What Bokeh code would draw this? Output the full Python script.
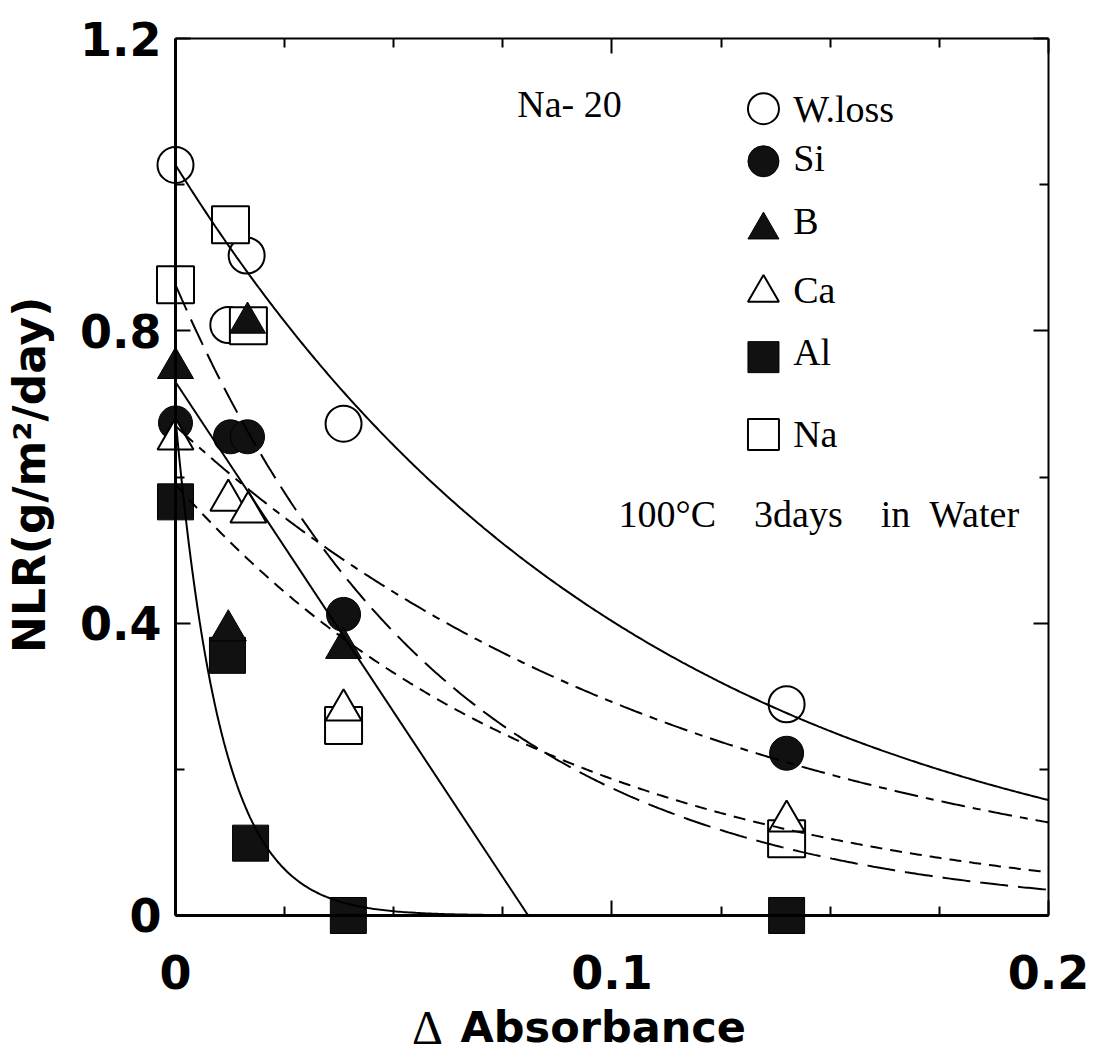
import numpy as np
from bokeh.plotting import figure
from bokeh.models import LinearAxis, Range1d, Label, FixedTicker
from bokeh.embed import file_html
from bokeh.resources import INLINE

# ---------------- data ----------------
x_wloss = [0.0, 0.0163, 0.0121, 0.0385, 0.140]
y_wloss = [1.027, 0.903, 0.808, 0.673, 0.289]

x_si = [0.0, 0.0126, 0.0165, 0.0385, 0.140]
y_si = [0.674, 0.655, 0.655, 0.412, 0.222]

x_b = [0.0, 0.0121, 0.0165, 0.0385]
y_b = [0.749, 0.390, 0.811, 0.366]

x_ca = [0.0, 0.0121, 0.0167, 0.0385, 0.140]
y_ca = [0.652, 0.568, 0.552, 0.281, 0.129]

x_al = [0.0, 0.0119, 0.0172, 0.0396, 0.140]
y_al = [0.566, 0.356, 0.099, 0.0, 0.0]

x_na = [0.0, 0.0126, 0.0167, 0.0385, 0.140]
y_na = [0.863, 0.945, 0.807, 0.260, 0.105]

# fitted curves: y = a * exp(-k x)
wloss_fit = [1.027, 9.36]
si_fit = [0.67, 8.3]
ca_fit = [0.59, 11.5]
al_fit = [0.68, 95.0]
na_fit = [0.863, 16.0]
# B: straight line
b_line_x = [0.0, 0.0808]
b_line_y = [0.73, 0.0]

legend_labels = ["W.loss", "Si", "B", "Ca", "Al", "Na"]
x_major_ticks = [0.0, 0.1, 0.2]
x_minor_ticks = [0.025, 0.05, 0.075, 0.125, 0.15, 0.175]
y_major_ticks = [0.0, 0.4, 0.8, 1.2]
y_minor_ticks = [0.2, 0.6, 1.0]
x_tick_labels = {0: "0", 0.1: "0.1", 0.2: "0.2"}
y_tick_labels = {0: "0", 0.4: "0.4", 0.8: "0.8", 1.2: "1.2"}

# ---------------- figure ----------------
# frame = whole canvas; data box 0..0.2 x 0..1.2 sits at px 175..1048 x 38..915
X0, X1 = -0.04009, 0.21237
Y0, Y1 = -0.19430, 1.25200
p = figure(width=1102, height=1057, x_range=Range1d(X0, X1), y_range=Range1d(Y0, Y1),
           output_backend="svg", toolbar_location=None, min_border=0,
           x_axis_type=None, y_axis_type=None)
p.grid.visible = False
p.background_fill_color = "white"
p.border_fill_color = "white"
p.outline_line_color = None

tick_font = "DejaVu Sans"
serif = "Liberation Serif"


def style_axis(ax, lw, labels=True):
    ax.axis_line_width = lw
    ax.axis_line_color = "black"
    ax.major_tick_in = 15
    ax.major_tick_out = 0
    ax.minor_tick_in = 9
    ax.minor_tick_out = 0
    ax.major_tick_line_width = 2
    ax.minor_tick_line_width = 2
    if labels:
        ax.major_label_text_font = tick_font
        ax.major_label_text_font_style = "bold"
        ax.major_label_text_font_size = "46px"
        ax.major_label_text_color = "black"
    else:
        ax.major_label_text_font_size = "1px"
        ax.major_label_text_color = None


xb = LinearAxis(ticker=FixedTicker(ticks=x_major_ticks, minor_ticks=x_minor_ticks),
                fixed_location=0.0, bounds=(0.0, 0.2), major_label_overrides=x_tick_labels,
                major_label_standoff=40)
style_axis(xb, 3)
p.add_layout(xb, "below")

xt = LinearAxis(ticker=FixedTicker(ticks=x_major_ticks, minor_ticks=x_minor_ticks),
                fixed_location=1.2, bounds=(0.0, 0.2))
style_axis(xt, 2, labels=False)
p.add_layout(xt, "above")

yl = LinearAxis(ticker=FixedTicker(ticks=y_major_ticks, minor_ticks=y_minor_ticks),
                fixed_location=0.0, bounds=(0.0, 1.2), major_label_overrides=y_tick_labels,
                major_label_standoff=14)
style_axis(yl, 3)
p.add_layout(yl, "left")

yr = LinearAxis(ticker=FixedTicker(ticks=y_major_ticks, minor_ticks=y_minor_ticks),
                fixed_location=0.2, bounds=(0.0, 1.2))
style_axis(yr, 2, labels=False)
p.add_layout(yr, "right")

# ---------------- markers ----------------
MS = 36
p.scatter(x_wloss, y_wloss, marker="circle", size=MS, fill_color="white",
          line_color="black", line_width=2)
p.scatter(x_na, y_na, marker="square", size=MS + 1, fill_color="white",
          line_color="black", line_width=2)
p.scatter(x_si, y_si, marker="circle", size=MS - 2, fill_color="#111111",
          line_color="black", line_width=1)
p.scatter(x_al, y_al, marker="square", size=MS, fill_color="#111111",
          line_color="black", line_width=1)
p.scatter(x_b, y_b, marker="triangle", size=MS, fill_color="#111111",
          line_color="black", line_width=1)
p.scatter(x_ca, y_ca, marker="triangle", size=MS, fill_color="white",
          line_color="black", line_width=2)

# ---------------- fitted curves ----------------
xs = np.linspace(0, 0.2, 400)


def curve(fit):
    return fit[0] * np.exp(-fit[1] * xs)


p.line(xs, curve(wloss_fit), line_color="black", line_width=2)
p.line(xs, curve(si_fit), line_color="black", line_width=2, line_dash="24 8 8 8")
p.line(xs, curve(ca_fit), line_color="black", line_width=2, line_dash="12 8")
p.line(xs, curve(na_fit), line_color="black", line_width=2, line_dash="28 10")
p.line(xs, curve(al_fit), line_color="black", line_width=2)
p.line(b_line_x, b_line_y, line_color="black", line_width=2)

# ---------------- legend (manual) ----------------
lx = 0.1347
leg_y = [1.104, 1.032, 0.938, 0.852, 0.764, 0.658]
leg_marker = ["circle", "circle", "triangle", "triangle", "square", "square"]
leg_fill = ["white", "#111111", "#111111", "white", "#111111", "white"]
leg_text_y = [1.104, 1.036, 0.950, 0.856, 0.771, 0.659]
for lab, yy, mk, fc, ty in zip(legend_labels, leg_y, leg_marker, leg_fill, leg_text_y):
    p.scatter([lx], [yy], marker=mk, size=31, fill_color=fc, line_color="black",
              line_width=2 if fc == "white" else 1)
    p.add_layout(Label(x=0.1415, y=ty, text=lab, text_font=serif, text_font_size="38px",
                       text_align="left", text_baseline="alphabetic", text_color="black"))

NB = "\u00a0"
p.add_layout(Label(x=0.0783, y=1.111, text="Na- 20", text_font=serif, text_font_size="38px",
                   text_align="left", text_baseline="alphabetic", text_color="black"))
p.add_layout(Label(x=0.1015, y=0.550,
                   text="100\u00b0C" + NB * 4 + "3days" + NB * 4 + "in" + NB * 2 + "Water",
                   text_font=serif, text_font_size="38px", text_align="left",
                   text_baseline="alphabetic", text_color="black"))

# ---------------- axis titles ----------------
p.add_layout(Label(x=-0.0335, y=0.603, text="NLR(g/m\u00b2/day)", text_font=tick_font,
                   text_font_style="bold", text_font_size="44px", angle=np.pi / 2,
                   text_align="center", text_baseline="middle", text_color="black"))
p.add_layout(Label(x=0.0577, y=-0.153, text="\u0394", text_font=serif,
                   text_font_size="48px", text_align="center", text_baseline="alphabetic",
                   text_color="black"))
p.add_layout(Label(x=0.0653, y=-0.153, text="Absorbance", text_font=tick_font,
                   text_font_style="bold", text_font_size="43px", text_align="left",
                   text_baseline="alphabetic", text_color="black"))

open("out.html", "w").write(file_html(p, INLINE))
